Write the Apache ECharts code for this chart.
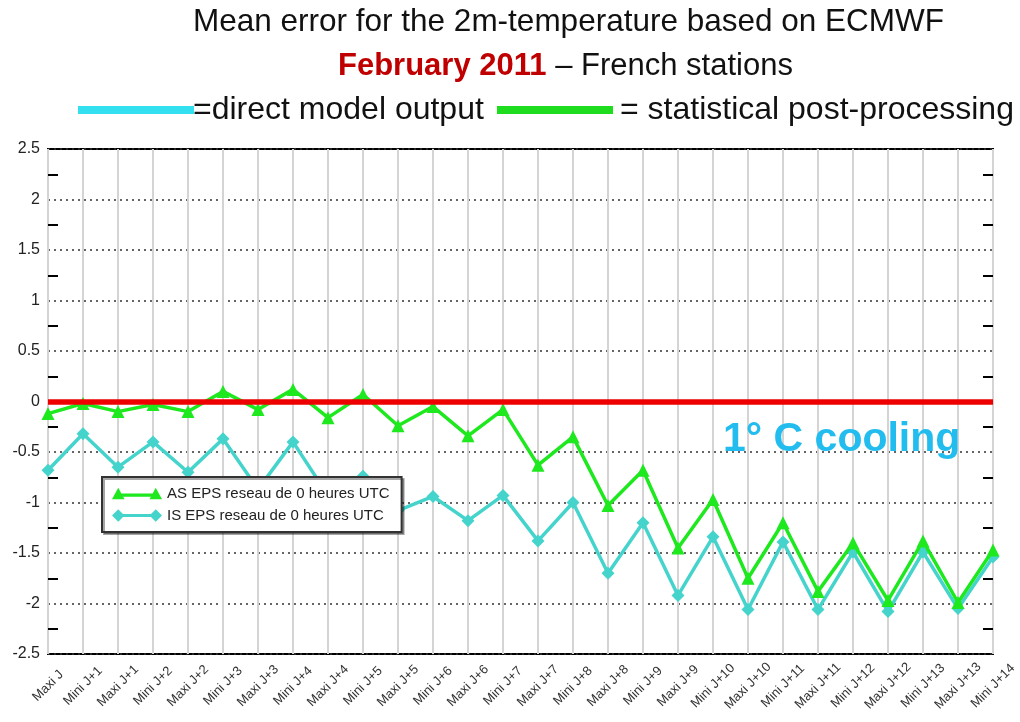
<!DOCTYPE html>
<html>
<head>
<meta charset="utf-8">
<script src="https://cdn.jsdelivr.net/npm/echarts@6/dist/echarts.min.js"></script>
<style>
  html, body { margin: 0; padding: 0; background: #fff; }
  #chart { width: 1020px; height: 722px; }
</style>
</head>
<body>
<div id="chart"></div>
<script>
/** 横轴分类 */
const categories = [
    "Maxi J", "Mini J+1", "Maxi J+1", "Mini J+2", "Maxi J+2", "Mini J+3", "Maxi J+3",
    "Mini J+4", "Maxi J+4", "Mini J+5", "Maxi J+5", "Mini J+6", "Maxi J+6", "Mini J+7",
    "Maxi J+7", "Mini J+8", "Maxi J+8", "Mini J+9", "Maxi J+9", "Mini J+10", "Maxi J+10",
    "Mini J+11", "Maxi J+11", "Mini J+12", "Maxi J+12", "Mini J+13", "Maxi J+13", "Mini J+14"
]

/** AS EPS - statistical post-processing */
const as_eps = [
    -0.12, -0.02, -0.10, -0.03, -0.10, 0.10, -0.08,
    0.12, -0.16, 0.07, -0.24, -0.05, -0.34, -0.08,
    -0.63, -0.35, -1.03, -0.68, -1.45, -0.97, -1.75,
    -1.20, -1.88, -1.40, -1.97, -1.38, -1.99, -1.47
]

/** IS EPS - direct model output */
const is_eps = [
    -0.68, -0.32, -0.65, -0.40, -0.70, -0.37, -0.87,
    -0.40, -0.93, -0.74, -1.08, -0.94, -1.18, -0.93,
    -1.38, -1.00, -1.70, -1.20, -1.92, -1.34, -2.06,
    -1.39, -2.06, -1.49, -2.08, -1.49, -2.05, -1.54
]

const Y_MIN = -2.5
const Y_MAX = 2.5
const Y_STEP = 0.5

const FONT = "'Liberation Sans', Arial, sans-serif"

/** 图例图标：两端带标记的线段 (48 x 12) */
const ICON_TRIANGLE = "path://M0,12L6,1L12,12Z M36,12L42,1L48,12Z M6,6.5L42,6.5L42,9.5L6,9.5Z"
const ICON_DIAMOND = "path://M0,6L6,0L12,6L6,12Z M36,6L42,0L48,6L42,12Z M6,4.5L42,4.5L42,7.5L6,7.5Z"

let chart = echarts.init(document.getElementById("chart"))

let option = {
    backgroundColor: "#fff",
    animation: false,
    grid: {
        left: 48,
        right: 27,
        top: 149,
        bottom: 68,
        show: true,
        borderColor: "#000",
        borderWidth: 2,
        backgroundColor: "transparent"
    },
    legend: {
        orient: "vertical",
        left: 102,
        top: 477,
        backgroundColor: "#fff",
        borderColor: "#333",
        borderWidth: 2,
        shadowColor: "rgba(0,0,0,0.35)",
        shadowOffsetX: 2,
        shadowOffsetY: 2,
        padding: [9, 12, 9, 10],
        itemGap: 7,
        itemWidth: 50,
        itemHeight: 13,
        textStyle: { fontFamily: FONT, fontSize: 15, color: "#222" },
        data: [
            { name: "AS EPS reseau de 0 heures UTC", icon: ICON_TRIANGLE },
            { name: "IS EPS reseau de 0 heures UTC", icon: ICON_DIAMOND }
        ]
    },
    xAxis: {
        type: "category",
        data: categories,
        boundaryGap: false,
        axisLine: { show: false },
        axisTick: { show: false },
        axisLabel: {
            interval: 0,
            rotate: 45,
            align: "center",
            verticalAlign: "middle",
            fontFamily: FONT,
            fontSize: 13,
            color: "#333",
            margin: 32
        },
        splitLine: {
            show: true,
            lineStyle: { color: "#d4d4d4", width: 2 }
        }
    },
    yAxis: [
        {
            type: "value",
            min: Y_MIN,
            max: Y_MAX,
            interval: Y_STEP,
            axisLine: { show: false },
            axisTick: { show: false, inside: true },
            minorTick: {
                show: true,
                splitNumber: 2,
                length: 10,
                lineStyle: { color: "#000", width: 2 }
            },
            axisLabel: {
                fontFamily: FONT,
                fontSize: 16,
                color: "#222",
                margin: 8
            },
            splitLine: {
                show: true,
                lineStyle: { color: "#333", width: 1.5, type: [2, 4] }
            }
        },
        {
            type: "value",
            position: "right",
            min: Y_MIN,
            max: Y_MAX,
            interval: Y_STEP,
            axisLine: { show: false },
            axisTick: { show: false, inside: true },
            minorTick: {
                show: true,
                splitNumber: 2,
                length: 10,
                lineStyle: { color: "#000", width: 2 }
            },
            axisLabel: { show: false },
            splitLine: { show: false }
        }
    ],
    series: [
        {
            name: "AS EPS reseau de 0 heures UTC",
            type: "line",
            data: as_eps,
            symbol: "triangle",
            symbolSize: 13,
            itemStyle: { color: "#1ee81e" },
            lineStyle: { color: "#1ee81e", width: 3.5 },
            z: 3,
            markLine: {
                silent: true,
                symbol: "none",
                label: { show: false },
                lineStyle: { color: "#ee0000", width: 5.5, type: "solid" },
                data: [{ yAxis: 0 }]
            }
        },
        {
            name: "IS EPS reseau de 0 heures UTC",
            type: "line",
            data: is_eps,
            symbol: "diamond",
            symbolSize: 13,
            itemStyle: { color: "#45d4cc" },
            lineStyle: { color: "#45d4cc", width: 3.5 },
            z: 2
        }
    ],
    graphic: [
        {
            type: "text",
            left: 193, top: 6,
            style: {
                text: "Mean error for the 2m-temperature based on ECMWF",
                font: "31.5px " + FONT,
                fill: "#111"
            }
        },
        {
            type: "text",
            left: 338, top: 51,
            style: {
                text: "{r|February 2011} – French stations",
                font: "31px " + FONT,
                fill: "#111",
                rich: {
                    r: { font: "bold 31px " + FONT, fill: "#c00000" }
                }
            }
        },
        {
            type: "rect",
            shape: { x: 78, y: 106, width: 116, height: 8 },
            style: { fill: "#33e0f0" }
        },
        {
            type: "text",
            left: 193, top: 94,
            style: {
                text: "=direct model output",
                font: "32px " + FONT,
                fill: "#111"
            }
        },
        {
            type: "rect",
            shape: { x: 497, y: 106, width: 116, height: 8 },
            style: { fill: "#1edc1e" }
        },
        {
            type: "text",
            left: 620, top: 94,
            style: {
                text: "= statistical post-processing",
                font: "32px " + FONT,
                fill: "#111"
            }
        },
        {
            type: "text",
            left: 723, top: 419,
            z: 10,
            style: {
                text: "1° C cooling",
                font: "bold 41px " + FONT,
                fill: "#22bdee"
            }
        }
    ]
}

chart.setOption(option)
</script>
</body>
</html>
